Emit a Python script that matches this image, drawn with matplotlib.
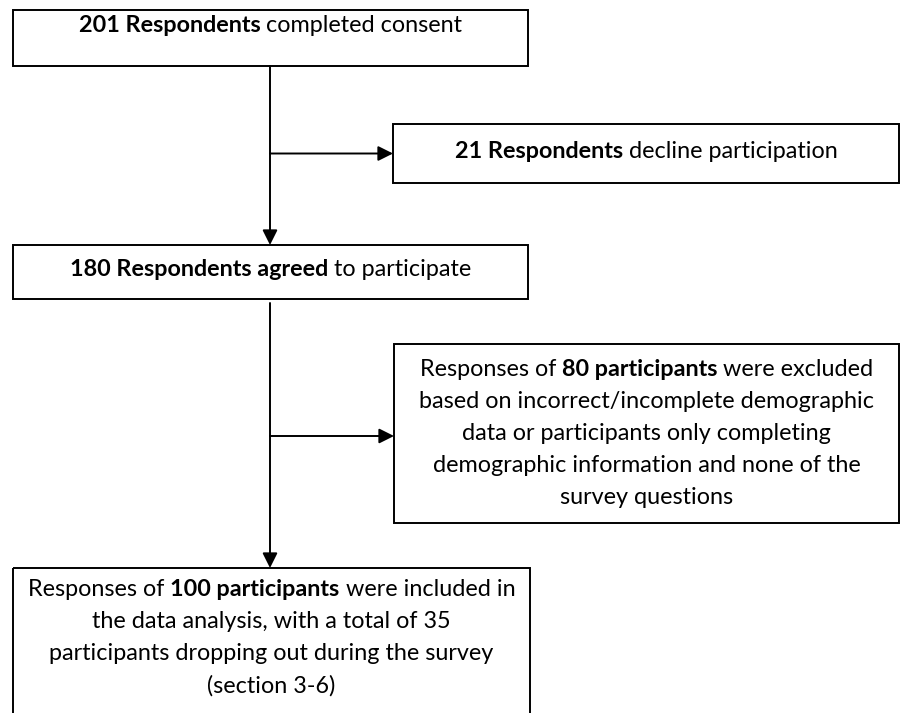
#!/usr/bin/env python3
"""
Participant flow diagram: consent -> agreed -> included, with exclusions.
"""

import matplotlib
matplotlib.use("Agg")
import matplotlib.pyplot as plt
from matplotlib.patches import Rectangle

# counts shown in the flow
N_CONSENT = 201
N_DECLINED = 21
N_AGREED = 180
N_EXCLUDED = 80
N_INCLUDED = 100
N_DROPOUT = 35

# text per box: list of lines, each line a list of (text, bold)
CONSENT_LINES = [[(f"{N_CONSENT} Respondents", True), (" completed consent", False)]]
DECLINE_LINES = [[(f"{N_DECLINED} Respondents", True), (" decline participation", False)]]
AGREED_LINES = [[(f"{N_AGREED} Respondents agreed", True), (" to participate", False)]]
EXCLUDED_LINES = [
    [("Responses of ", False), (f"{N_EXCLUDED} participants", True), (" were excluded", False)],
    [("based on incorrect/incomplete demographic", False)],
    [("data or participants only completing", False)],
    [("demographic information and none of the", False)],
    [("survey questions", False)],
]
INCLUDED_LINES = [
    [("Responses of ", False), (f"{N_INCLUDED} participants", True), (" were included in", False)],
    [(f"the data analysis, with a total of {N_DROPOUT}", False)],
    [("participants dropping out during the survey", False)],
    [("(section 3-6)", False)],
]

# layout, in pixels (x0, y0, x1, y1), y grows downwards
W, H = 901, 713
BOX_CONSENT = (13, 10, 528, 66)
BOX_DECLINE = (393, 124, 899, 183)
BOX_AGREED = (13, 245, 528, 299)
BOX_EXCLUDED = (394, 344, 899, 523)
BOX_INCLUDED = (13, 568, 530, 718)
TRUNK_X = 270

FONT = "Lato"
SIZE = 16.8
LINE_H = 32
LW = 1.4


def text_width(ax, renderer, s, bold):
    t = ax.text(0, 0, s, fontsize=SIZE, family=FONT,
                fontweight="bold" if bold else "normal")
    w = t.get_window_extent(renderer).width
    t.remove()
    return w


def draw_line(ax, renderer, cx, cy, parts):
    space = text_width(ax, renderer, "a a", False) - text_width(ax, renderer, "aa", False)
    pieces = []
    for s, bold in parts:
        lead = len(s) - len(s.lstrip(" "))
        trail = len(s) - len(s.rstrip(" "))
        pieces.append((lead, s.strip(" "), bold, trail))
    total = 0
    for lead, core, bold, trail in pieces:
        total += (lead + trail) * space + text_width(ax, renderer, core, bold)
    x = cx - total / 2
    for lead, core, bold, trail in pieces:
        x += lead * space
        ax.text(x, cy, core, fontsize=SIZE, family=FONT, ha="left", va="center",
                fontweight="bold" if bold else "normal", color="black")
        x += text_width(ax, renderer, core, bold) + trail * space


def draw_box(ax, renderer, box, lines, first_y):
    x0, y0, x1, y1 = box
    ax.add_patch(Rectangle((x0, y0), x1 - x0, y1 - y0, fill=False,
                           edgecolor="black", linewidth=LW, zorder=2))
    cx = (x0 + x1) / 2
    for i, parts in enumerate(lines):
        draw_line(ax, renderer, cx, first_y + i * LINE_H, parts)


def arrow(ax, x0, y0, x1, y1):
    ax.annotate("", xy=(x1, y1), xytext=(x0, y0),
                arrowprops=dict(arrowstyle="-|>,head_length=0.9,head_width=0.45",
                                color="black", lw=LW, shrinkA=0, shrinkB=0),
                zorder=3)


fig = plt.figure(figsize=(W / 100, H / 100), dpi=100)
ax = fig.add_axes([0, 0, 1, 1])
ax.set_xlim(0, W)
ax.set_ylim(H, 0)
ax.axis("off")
renderer = fig.canvas.get_renderer()

draw_box(ax, renderer, BOX_CONSENT, CONSENT_LINES, 26)
draw_box(ax, renderer, BOX_DECLINE, DECLINE_LINES, 151)
draw_box(ax, renderer, BOX_AGREED, AGREED_LINES, 270)
draw_box(ax, renderer, BOX_EXCLUDED, EXCLUDED_LINES, 369)
draw_box(ax, renderer, BOX_INCLUDED, INCLUDED_LINES, 590)

# trunk 1: consent -> agreed, branch to decline
arrow(ax, TRUNK_X, BOX_CONSENT[3], TRUNK_X, BOX_AGREED[1])
branch1_y = (BOX_DECLINE[1] + BOX_DECLINE[3]) / 2
arrow(ax, TRUNK_X, branch1_y, BOX_DECLINE[0], branch1_y)

# trunk 2: agreed -> included, branch to excluded
arrow(ax, TRUNK_X, BOX_AGREED[3] + 4, TRUNK_X, BOX_INCLUDED[1])
branch2_y = 436
arrow(ax, TRUNK_X, branch2_y, BOX_EXCLUDED[0], branch2_y)

fig.savefig("out.png", dpi=100, facecolor="white")
